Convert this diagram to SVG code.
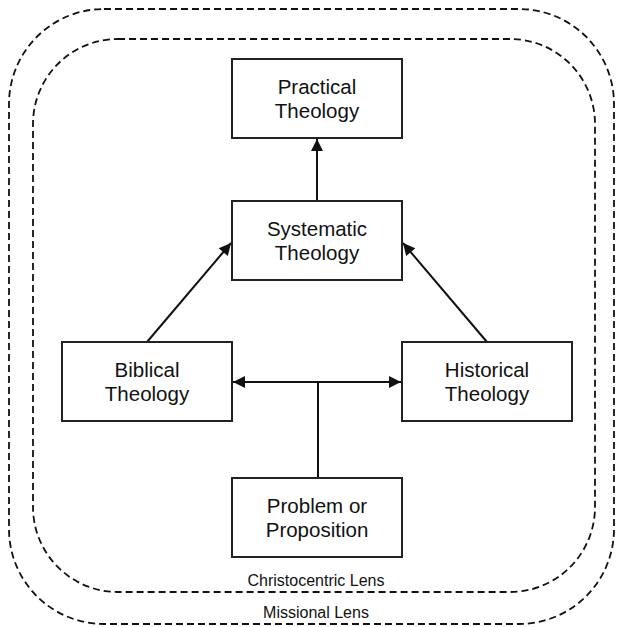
<svg xmlns="http://www.w3.org/2000/svg" width="617" height="627" viewBox="0 0 617 627">
<style>
.lens{fill:none;stroke:#111;stroke-width:1.8;stroke-dasharray:7 4}
.box{fill:#fff;stroke:#222;stroke-width:2}
.t{font-family:"Liberation Sans",Arial,sans-serif;font-size:20.5px;fill:#111;text-anchor:middle}
.s{font-family:"Liberation Sans",Arial,sans-serif;font-size:16px;fill:#111;text-anchor:middle}
.edge{fill:none;stroke:#111;stroke-width:2}
</style>
<defs>
<marker id="ah" viewBox="0 0 10 10" refX="10" refY="5" markerWidth="6.5" markerHeight="6" markerUnits="strokeWidth" orient="auto-start-reverse">
<path d="M0,0 L10,5 L0,10 z" fill="#111"/>
</marker>
</defs>
<g id="missional-lens">
<rect class="lens" x="9" y="9" width="605" height="615" rx="95" ry="95"/>
<text class="s" x="316" y="618">Missional Lens</text>
</g>
<g id="christocentric-lens">
<rect class="lens" x="33" y="39" width="562" height="553" rx="85" ry="85"/>
<text class="s" x="316" y="586">Christocentric Lens</text>
</g>
<g id="connectors">
<line class="edge" x1="317" y1="201" x2="317" y2="139" marker-end="url(#ah)"/>
<line class="edge" x1="147" y1="342" x2="231" y2="243" marker-end="url(#ah)"/>
<line class="edge" x1="487" y1="342" x2="403" y2="243" marker-end="url(#ah)"/>
<line class="edge" x1="233" y1="382" x2="401" y2="382" marker-start="url(#ah)" marker-end="url(#ah)"/>
<line class="edge" x1="318" y1="382" x2="318" y2="478"/>
</g>
<g id="practical">
<rect class="box" x="232" y="59" width="170" height="79"/>
<text class="t" x="317" y="94">Practical</text>
<text class="t" x="317" y="118">Theology</text>
</g>
<g id="systematic">
<rect class="box" x="232" y="201" width="170" height="79"/>
<text class="t" x="317" y="236">Systematic</text>
<text class="t" x="317" y="260">Theology</text>
</g>
<g id="biblical">
<rect class="box" x="62" y="342" width="170" height="79"/>
<text class="t" x="147" y="377">Biblical</text>
<text class="t" x="147" y="401">Theology</text>
</g>
<g id="historical">
<rect class="box" x="402" y="342" width="170" height="79"/>
<text class="t" x="487" y="377">Historical</text>
<text class="t" x="487" y="401">Theology</text>
</g>
<g id="problem">
<rect class="box" x="232" y="478" width="170" height="79"/>
<text class="t" x="317" y="513">Problem or</text>
<text class="t" x="317" y="537">Proposition</text>
</g>
</svg>
